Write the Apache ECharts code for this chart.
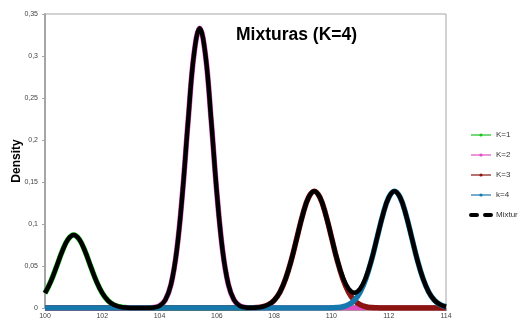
<!DOCTYPE html>
<html>
<head>
<meta charset="utf-8">
<script src="https://cdn.jsdelivr.net/npm/echarts@6/dist/echarts.min.js"></script>
<style>
  html, body { margin: 0; padding: 0; background: #ffffff; }
  #chart { width: 525px; height: 328px; }
</style>
</head>
<body>
<div id="chart"></div>
<script>
// Sample positions (x) shared by every density curve
const xValues = [
  100.0, 100.2, 100.4, 100.6, 100.8, 101.0, 101.2, 101.4, 101.6, 101.8,
  102.0, 102.2, 102.4, 102.6, 102.8, 103.0, 103.2, 103.4, 103.6, 103.8,
  104.0, 104.2, 104.4, 104.6, 104.8, 105.0, 105.2, 105.4, 105.6, 105.8,
  106.0, 106.2, 106.4, 106.6, 106.8, 107.0, 107.2, 107.4, 107.6, 107.8,
  108.0, 108.2, 108.4, 108.6, 108.8, 109.0, 109.2, 109.4, 109.6, 109.8,
  110.0, 110.2, 110.4, 110.6, 110.8, 111.0, 111.2, 111.4, 111.6, 111.8,
  112.0, 112.2, 112.4, 112.6, 112.8, 113.0, 113.2, 113.4, 113.6, 113.8,
  114.0
];

// Component densities
const k1 = [
  0.0177, 0.0314, 0.049, 0.0674, 0.0816, 0.087, 0.0816, 0.0674, 0.049, 0.0314,
  0.0177, 0.0088, 0.0038, 0.0015, 0.0005, 0.0001, 0, 0, 0, 0,
  0, 0, 0, 0, 0, 0, 0, 0, 0, 0,
  0, 0, 0, 0, 0, 0, 0, 0, 0, 0,
  0, 0, 0, 0, 0, 0, 0, 0, 0, 0,
  0, 0, 0, 0, 0, 0, 0, 0, 0, 0,
  0, 0, 0, 0, 0, 0, 0, 0, 0, 0,
  0
];
const k2 = [
  0, 0, 0, 0, 0, 0, 0, 0, 0, 0,
  0, 0, 0, 0, 0, 0, 0, 0, 0.0001, 0.0006,
  0.0026, 0.0095, 0.0282, 0.0686, 0.1369, 0.2243, 0.3017, 0.333, 0.3017, 0.2243,
  0.1369, 0.0686, 0.0282, 0.0095, 0.0026, 0.0006, 0.0001, 0, 0, 0,
  0, 0, 0, 0, 0, 0, 0, 0, 0, 0,
  0, 0, 0, 0, 0, 0, 0, 0, 0, 0,
  0, 0, 0, 0, 0, 0, 0, 0, 0, 0,
  0
];
const k3 = [
  0, 0, 0, 0, 0, 0, 0, 0, 0, 0,
  0, 0, 0, 0, 0, 0, 0, 0, 0, 0,
  0, 0, 0, 0, 0, 0, 0, 0, 0, 0,
  0, 0, 0, 0, 0, 0, 0.0002, 0.0005, 0.0015, 0.004,
  0.0091, 0.0188, 0.0347, 0.0571, 0.0843, 0.1113, 0.1315, 0.139, 0.1315, 0.1113,
  0.0843, 0.0571, 0.0347, 0.0188, 0.0091, 0.004, 0.0015, 0.0005, 0.0002, 0,
  0, 0, 0, 0, 0, 0, 0, 0, 0, 0,
  0
];
const k4 = [
  0, 0, 0, 0, 0, 0, 0, 0, 0, 0,
  0, 0, 0, 0, 0, 0, 0, 0, 0, 0,
  0, 0, 0, 0, 0, 0, 0, 0, 0, 0,
  0, 0, 0, 0, 0, 0, 0, 0, 0, 0,
  0, 0, 0, 0, 0, 0, 0, 0, 0, 0,
  0.0002, 0.0005, 0.0015, 0.004, 0.0091, 0.0188, 0.0347, 0.0571, 0.0843, 0.1113,
  0.1315, 0.139, 0.1315, 0.1113, 0.0843, 0.0571, 0.0347, 0.0188, 0.0091, 0.004,
  0.0015
];

// Mixture density
const mixture = [
  0.0177, 0.0314, 0.049, 0.0674, 0.0816, 0.087, 0.0816, 0.0674, 0.049, 0.0314,
  0.0177, 0.0088, 0.0038, 0.0015, 0.0005, 0.0001, 0, 0, 0.0001, 0.0006,
  0.0026, 0.0095, 0.0282, 0.0686, 0.1369, 0.2243, 0.3017, 0.333, 0.3017, 0.2243,
  0.1369, 0.0686, 0.0282, 0.0095, 0.0026, 0.0006, 0.0003, 0.0005, 0.0015, 0.004,
  0.0091, 0.0188, 0.0347, 0.0571, 0.0843, 0.1113, 0.1315, 0.139, 0.1315, 0.1113,
  0.0845, 0.0576, 0.0362, 0.0228, 0.0182, 0.0228, 0.0362, 0.0576, 0.0845, 0.1113,
  0.1315, 0.139, 0.1315, 0.1113, 0.0843, 0.0571, 0.0347, 0.0188, 0.0091, 0.004,
  0.0015
];

const seriesNames = ['K=1', 'K=2', 'K=3', 'k=4', 'Mixtur'];
const seriesColors = ['#19c41e', '#e04fc2', '#8c1410', '#1679ad', '#000000'];
const yTickLabels = ['0', '0,05', '0,1', '0,15', '0,2', '0,25', '0,3', '0,35'];
const xTickLabels = ['100', '102', '104', '106', '108', '110', '112', '114'];

function pairs(ys) {
  return xValues.map((x, i) => [x, ys[i]]);
}

const componentData = [k1, k2, k3, k4];

const series = componentData.map((ys, i) => ({
  name: seriesNames[i],
  type: 'line',
  data: pairs(ys),
  smooth: 0.4,
  showSymbol: false,
  symbol: 'circle',
  symbolSize: 4,
  itemStyle: { color: seriesColors[i] },
  lineStyle: { color: seriesColors[i], width: 5.5 },
  z: 2 + i,
  silent: true
}));

series.push({
  name: seriesNames[4],
  type: 'line',
  data: pairs(mixture),
  smooth: 0.4,
  showSymbol: false,
  symbol: 'none',
  itemStyle: { color: '#000000' },
  lineStyle: { color: '#000000', width: 4.5 },
  z: 10,
  silent: true
});

// Legend entries: thin lines with a small dot, dashed thick line for the mixture
const legendData = seriesNames.map((name, i) => (i < 4
  ? { name, lineStyle: { width: 1.2, color: seriesColors[i] }, itemStyle: { color: seriesColors[i] } }
  : { name, lineStyle: { type: [6, 8], width: 4, cap: 'round', color: '#000000' }, itemStyle: { opacity: 0 } }));

const chart = echarts.init(document.getElementById('chart'), null, { renderer: 'canvas' });

chart.setOption({
  animation: false,
  backgroundColor: '#ffffff',
  title: {
    text: 'Mixturas (K=4)',
    left: 231,
    top: 21,
    textStyle: {
      fontFamily: 'Liberation Sans',
      fontSize: 17.5,
      fontWeight: 'bold',
      color: '#000000'
    }
  },
  legend: {
    orient: 'vertical',
    left: 464,
    top: 126,
    itemWidth: 20,
    itemHeight: 4,
    itemGap: 12,
    itemStyle: { borderWidth: 0 },
    textStyle: { fontFamily: 'Liberation Sans', fontSize: 8, color: '#333333', padding: [0, 0, 0, 0] },
    data: legendData
  },
  grid: {
    left: 45,
    right: 79,
    top: 14,
    bottom: 20,
    outerBoundsMode: 'none',
    containLabel: false,
    show: true,
    borderColor: '#a6a6a6',
    borderWidth: 1
  },
  xAxis: {
    type: 'value',
    min: 100,
    max: 114,
    interval: 2,
    axisLine: { show: true, lineStyle: { color: '#a6a6a6', width: 1.5 } },
    axisTick: { show: true, length: 3, lineStyle: { color: '#a6a6a6' } },
    splitLine: { show: false },
    axisLabel: {
      margin: 5,
      fontFamily: 'Liberation Sans',
      fontSize: 7,
      color: '#444444',
      formatter: (v) => xTickLabels[Math.round((v - 100) / 2)] ?? ''
    }
  },
  yAxis: {
    type: 'value',
    min: 0,
    max: 0.35,
    interval: 0.05,
    name: 'Density',
    nameLocation: 'middle',
    nameGap: 22,
    nameRotate: 90,
    nameMoveOverlap: false,
    nameTextStyle: {
      fontFamily: 'Liberation Sans',
      fontSize: 12,
      fontWeight: 'bold',
      color: '#000000'
    },
    axisLine: { show: true, lineStyle: { color: '#a6a6a6', width: 2 } },
    axisTick: { show: true, length: 3, lineStyle: { color: '#a6a6a6' } },
    splitLine: { show: false },
    axisLabel: {
      margin: 7,
      fontFamily: 'Liberation Sans',
      fontSize: 7,
      color: '#444444',
      formatter: (v) => yTickLabels[Math.round(v / 0.05)] ?? ''
    }
  },
  series: series
});
</script>
</body>
</html>
